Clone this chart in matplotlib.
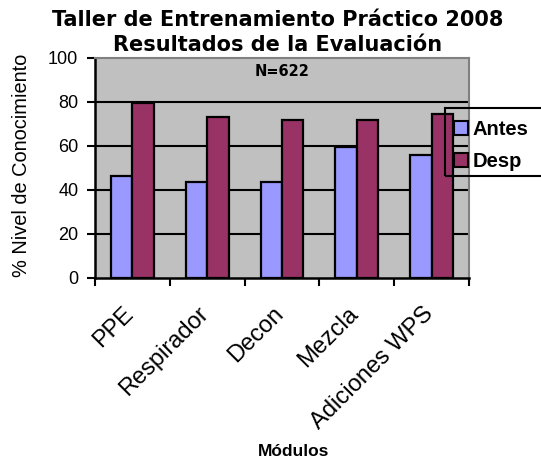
import numpy as np
import matplotlib
matplotlib.use("Agg")
from matplotlib import pyplot as plt
from matplotlib.patches import Patch, Rectangle

# data
modulos = ["PPE", "Respirador", "Decon", "Mezcla", "Adiciones WPS"]
antes = [46.4, 43.8, 43.8, 59.7, 55.9]
desp = [79.4, 73.0, 71.8, 72.0, 74.4]
y_ticks = [0, 20, 40, 60, 80, 100]

c_antes = "#9999FF"
c_desp = "#993366"

W, H = 541, 461
fig = plt.figure(figsize=(W / 100, H / 100), dpi=100)
ax = fig.add_axes([95 / W, 1 - 278 / H, (469 - 95) / W, (278 - 58) / H])
ax.set_facecolor("#C0C0C0")

x = np.arange(len(modulos))
w = 0.287
ax.bar(x - w / 2, antes, w, color=c_antes, edgecolor="black", linewidth=1.6, zorder=3)
ax.bar(x + w / 2, desp, w, color=c_desp, edgecolor="black", linewidth=1.6, zorder=3)

ax.set_xlim(-0.5, len(modulos) - 0.5)
ax.set_ylim(0, 100)

# gridlines
for v in y_ticks[1:-1]:
    ax.axhline(v, color="black", linewidth=1.5, zorder=1)

ax.set_yticks(y_ticks)
ax.set_yticklabels([str(v) for v in y_ticks], fontsize=13, family="Liberation Sans")
ax.tick_params(axis="y", direction="out", length=6, width=1.5, pad=6)

ax.set_xticks(np.arange(len(modulos) + 1) - 0.5)
ax.set_xticklabels([])
ax.tick_params(axis="x", which="major", direction="out", length=6, width=1.5)
# category labels: invisible minor ticks, set a little left of the centre like Excel
ax.set_xticks(x - 0.13, minor=True)
ax.set_xticklabels(modulos, minor=True, rotation=45, ha="right", va="top",
                   rotation_mode="anchor", fontsize=17, family="Liberation Sans")
ax.tick_params(axis="x", which="minor", length=0, pad=18)

for s in ["left", "bottom"]:
    ax.spines[s].set_linewidth(1.8)
    ax.spines[s].set_color("black")
for s in ["top", "right"]:
    ax.spines[s].set_linewidth(1.5)
    ax.spines[s].set_color("#808080")

ax.set_ylabel("% Nivel de Conocimiento", fontsize=14.4, family="Liberation Sans")
ax.yaxis.set_label_coords(-0.17, 0.51)
fig.text(294 / W, 1 - 451 / H, "Módulos", ha="center", va="center",
         fontsize=12.5, fontweight="bold", family="Liberation Sans")

ax.text(0.5, 0.94, "N=622", transform=ax.transAxes, ha="center", va="center",
        fontsize=10.5, fontweight="bold", family="DejaVu Sans")

fig.text(278 / W, 1 - 20 / H, "Taller de Entrenamiento Práctico 2008", ha="center",
         va="center", fontsize=15, fontweight="bold", family="DejaVu Sans")
fig.text(278 / W, 1 - 45 / H, "Resultados de la Evaluación", ha="center",
         va="center", fontsize=15, fontweight="bold", family="DejaVu Sans")

# legend frame (runs off the right edge like the original)
fig.patches.append(Rectangle((445 / W, 1 - 176 / H), 120 / W, 68 / H,
                             transform=fig.transFigure, fill=False,
                             edgecolor="black", linewidth=1.5, zorder=2))
handles = [Patch(facecolor=c_antes, edgecolor="black", linewidth=1.5, label="Antes"),
           Patch(facecolor=c_desp, edgecolor="black", linewidth=1.5, label="Desp")]
fig.legend(handles=handles, loc="upper left", bbox_to_anchor=(452 / W, 1 - 118 / H),
           frameon=False, prop={"family": "Liberation Sans", "weight": "bold", "size": 14.5},
           handlelength=0.7, handleheight=0.7, handletextpad=0.2, labelspacing=0.65,
           borderpad=0.1, borderaxespad=0)

fig.savefig("out.png", dpi=100, facecolor="white")
